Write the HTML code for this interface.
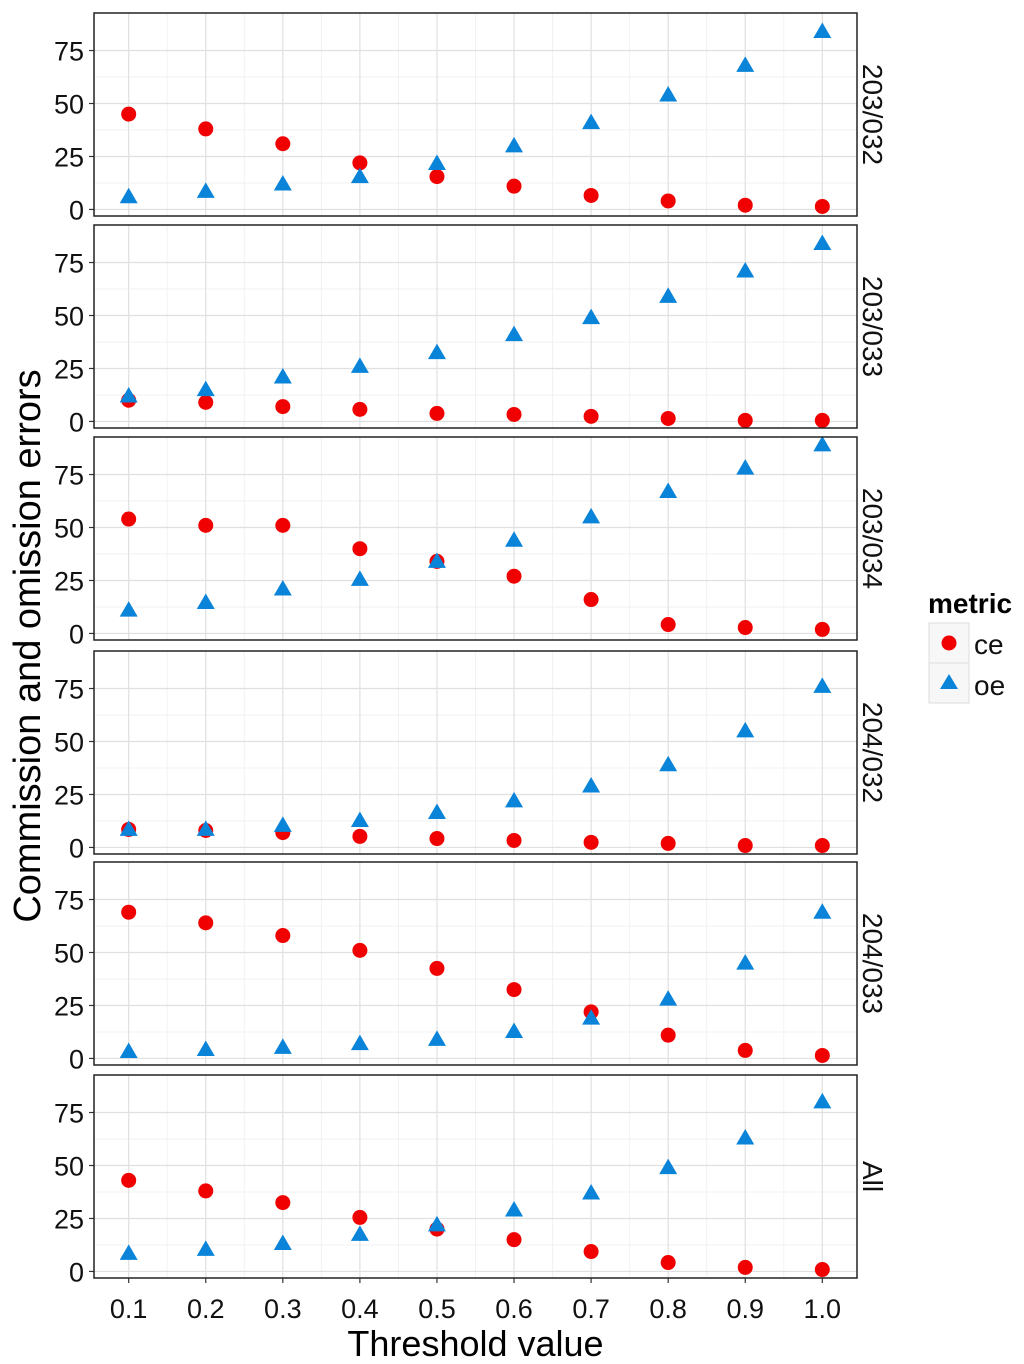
<!DOCTYPE html>
<html><head><meta charset="utf-8"><style>
body{margin:0;background:#fff;}
svg{display:block;font-family:"Liberation Sans",sans-serif;}
</style></head><body>
<svg id="chart" width="1024" height="1364"></svg>
<script>
const panels = ["203/032","203/033","203/034","204/032","204/033","All"];
const thresholds = [0.1,0.2,0.3,0.4,0.5,0.6,0.7,0.8,0.9,1.0];
const ceValues = [
 [45,38,31,22,15.5,11,6.6,4,2,1.4],
 [10,9,7,5.7,3.8,3.3,2.4,1.4,0.5,0.5],
 [54,51,51,40,34,27,16,4.2,2.8,1.9],
 [8.5,8,7,5.2,4.2,3.3,2.4,1.9,0.9,0.9],
 [69,64,58,51,42.5,32.5,22,11,3.8,1.4],
 [43,38,32.5,25.5,20,15,9.4,4.2,1.9,0.9]
];
const oeValues = [
 [6,8.5,12,15.5,21.7,30,41,54,68,84],
 [12,15,21,26,32.5,41,49,59,71,84],
 [11,14.6,21,25.5,34,44,55,67,78,89],
 [8.5,8.5,10.4,12.7,16.5,22,29,39,55,76],
 [3.3,4.2,5.2,7,9,12.7,19,28,45,69],
 [8.5,10.4,13.2,17.5,22,29,37,49,63,80]
];
const yTicks = [0,25,50,75];
const xTickLabels = ["0.1","0.2","0.3","0.4","0.5","0.6","0.7","0.8","0.9","1.0"];

const NS="http://www.w3.org/2000/svg";
const svg=document.getElementById('chart');
function mk(tag,attrs,parent){const e=document.createElementNS(NS,tag);for(const k in attrs)e.setAttribute(k,attrs[k]);(parent||svg).appendChild(e);return e;}
const L=94,R=857;
const panelTops=[13,225,437,651,862,1075];
const PH=203;
const yMin=-3.8,yMax=92;
const xMin=0.055,xMax=1.045;
function xs(v){return L+(v-xMin)/(xMax-xMin)*(R-L);}
function ys(v,p){const t=panelTops[p];return t+PH-(v-yMin)/(yMax-yMin)*PH+1.5;}

panels.forEach((name,p)=>{
  const g=mk('g',{});
  
  
  const t=panelTops[p];
  mk('rect',{x:L,y:t,width:R-L,height:PH,fill:'#fff'},g);
  for(let i=0;i<3;i++){const v=12.5+25*i;mk('line',{x1:L,x2:R,y1:ys(v,p),y2:ys(v,p),stroke:'#f2f2f2','stroke-width':1},g);}
  for(let i=0;i<9;i++){const v=(thresholds[i]+thresholds[i+1])/2;mk('line',{x1:xs(v),x2:xs(v),y1:t,y2:t+PH,stroke:'#f2f2f2','stroke-width':1},g);}
  yTicks.forEach(v=>{
    mk('line',{x1:L,x2:R,y1:ys(v,p),y2:ys(v,p),stroke:'#e0e0e0','stroke-width':1.2},g);
    mk('line',{x1:L-5,x2:L,y1:ys(v,p),y2:ys(v,p),stroke:'#333','stroke-width':1.2},g);
    const tx=mk('text',{x:L-10,y:ys(v,p)+10,'text-anchor':'end','font-size':27,fill:'#111'},g);
    tx.textContent=v;
    
    
  });
  thresholds.forEach(v=>{mk('line',{x1:xs(v),x2:xs(v),y1:t,y2:t+PH,stroke:'#e0e0e0','stroke-width':1.2},g);});
  ceValues[p].forEach((v,i)=>{
    const c=mk('circle',{cx:xs(thresholds[i]),cy:ys(v,p),r:7.5,fill:'#f00000'},g);
    
    
  });
  oeValues[p].forEach((v,i)=>{
    const x=xs(thresholds[i]),y=ys(v,p);
    const tr=mk('polygon',{points:`${x},${y-9} ${x-9},${y+6.5} ${x+9},${y+6.5}`,fill:'#0a84d9'},g);
    
    
  });
  mk('rect',{x:L,y:t,width:R-L,height:PH,fill:'none',stroke:'#222','stroke-width':1.5},g);
  const st=mk('text',{x:0,y:0,'font-size':28,fill:'#111','text-anchor':'middle',transform:`translate(${R+6},${t+PH/2}) rotate(90)`},g);
  st.textContent=name;
  
  
});
const bottom=panelTops[5]+PH;
thresholds.forEach((v,i)=>{
  mk('line',{x1:xs(v),x2:xs(v),y1:bottom,y2:bottom+5,stroke:'#333','stroke-width':1.2});
  const tx=mk('text',{x:xs(v),y:bottom+40,'text-anchor':'middle','font-size':27,fill:'#111'});
  tx.textContent=xTickLabels[i];
  
  
});
const xt=mk('text',{x:(L+R)/2,y:1356,'text-anchor':'middle','font-size':36,fill:'#000'});
xt.textContent='Threshold value';


const yt=mk('text',{x:0,y:0,'text-anchor':'middle','font-size':38,fill:'#000',transform:'translate(40,646) rotate(-90)'});
yt.textContent='Commission and omission errors';


const lg=mk('g',{});


const lt=mk('text',{x:928,y:613,'font-size':28,'font-weight':'bold',fill:'#000'},lg);
lt.textContent='metric';
mk('rect',{x:929,y:623,width:40,height:40,fill:'#f7f7f7',stroke:'#ddd'},lg);
mk('rect',{x:929,y:663,width:40,height:40,fill:'#f7f7f7',stroke:'#ddd'},lg);
mk('circle',{cx:949,cy:643,r:7.5,fill:'#f00000'},lg);
mk('polygon',{points:'949,674 940,689 958,689',fill:'#0a84d9'},lg);
const l1=mk('text',{x:974,y:654,'font-size':28,fill:'#111'},lg);l1.textContent='ce';


const l2=mk('text',{x:974,y:695,'font-size':28,fill:'#111'},lg);l2.textContent='oe';


</script>
</body></html>
